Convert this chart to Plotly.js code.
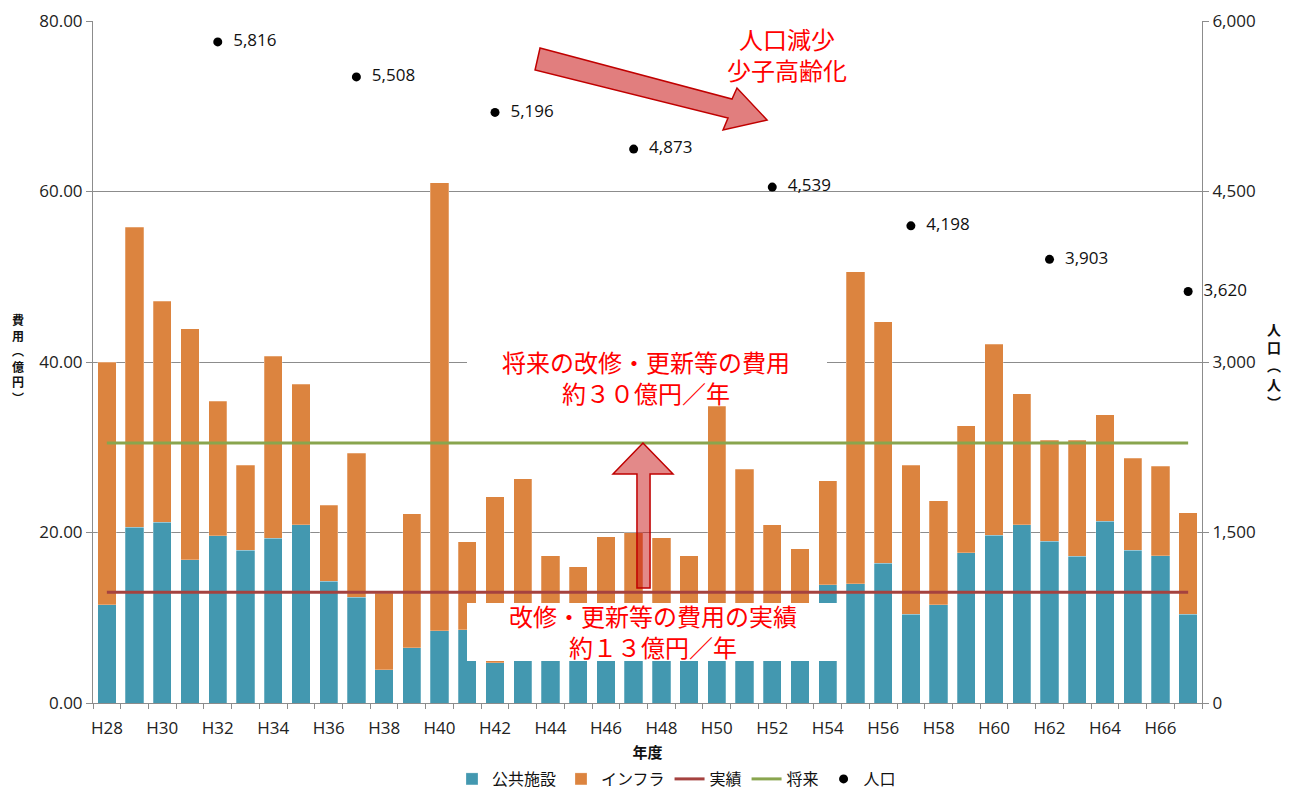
<!DOCTYPE html>
<html>
<head>
<meta charset="utf-8">
<script src="https://cdn.plot.ly/plotly-3.0.1.min.js"></script>
<style>html,body{margin:0;padding:0;background:#fff;}#chart{width:1289px;height:789px;}</style>
</head>
<body>
<div id="chart"></div>
<script>
// ---- data ----
const categories = ['H28','H29','H30','H31','H32','H33','H34','H35','H36','H37',
  'H38','H39','H40','H41','H42','H43','H44','H45','H46','H47',
  'H48','H49','H50','H51','H52','H53','H54','H55','H56','H57',
  'H58','H59','H60','H61','H62','H63','H64','H65','H66','H67'];
const publicFacilities = [11.5,20.6,21.2,16.8,19.6,17.9,19.3,20.9,14.3,12.4,
  3.9,6.5,8.5,8.6,4.7,6.5,7.0,8.0,7.5,9.0,
  8.5,7.0,9.5,8.0,7.5,6.0,13.9,14.0,16.4,10.4,
  11.5,17.6,19.7,20.9,19.0,17.2,21.3,17.9,17.3,10.4];
const infrastructure = [28.5,35.2,25.9,27.1,15.8,10.0,21.4,16.5,8.9,16.9,
  9.0,15.7,52.5,10.3,19.5,19.8,10.3,8.0,12.0,11.0,
  10.9,10.3,25.3,19.4,13.4,12.1,12.2,36.6,28.3,17.5,
  12.2,14.9,22.4,15.4,11.8,13.6,12.5,10.8,10.5,11.9];
const actualAverage = 13.0;   // 実績
const futureAverage = 30.5;   // 将来
const populationYears = ['H32','H37','H42','H47','H52','H57','H62','H67'];
const population = [5816,5508,5196,4873,4539,4198,3903,3620];
const tickLabels = categories.map((c, i) => (i % 2 === 0 ? c : ''));

// ---- layout helpers (pixel -> paper) ----
const W = 1289, H = 789;
const L = 93, R = 1202, T = 21, B = 703;
const px = x => (x - L) / (R - L);
const py = y => (B - y) / (B - T);
const poly = pts => 'M ' + pts.map(p => px(p[0]).toFixed(4) + ',' + py(p[1]).toFixed(4)).join(' L ') + ' Z';

const latin = 'Open Sans, Noto Sans CJK JP, sans-serif';
const cjk = 'Noto Sans CJK JP, sans-serif';
const teal = '#4398B0';
const orange = '#DC843F';
const red = '#A5423F';
const green = '#89A54E';
const grid = '#8C8C8C';

const traces = [
  {type:'bar', name:'公共施設', x:categories, y:publicFacilities,
   marker:{color:teal, line:{color:'rgba(255,255,255,0.5)', width:0.5}}},
  {type:'bar', name:'インフラ', x:categories, y:infrastructure,
   marker:{color:orange, line:{color:'rgba(255,255,255,0.5)', width:0.5}}},
  {type:'scatter', mode:'lines', name:'実績',
   x:[categories[0], categories[categories.length-1]], y:[actualAverage, actualAverage],
   line:{color:red, width:3}},
  {type:'scatter', mode:'lines', name:'将来',
   x:[categories[0], categories[categories.length-1]], y:[futureAverage, futureAverage],
   line:{color:green, width:3}},
  {type:'scatter', mode:'markers+text', name:'人口', x:populationYears, y:population, yaxis:'y2',
   marker:{color:'#000', size:9}, texttemplate:'  %{y:,}', textposition:'middle right',
   textfont:{family:latin, size:17, color:'#111'}, cliponaxis:false}
];

const redFont = {family:cjk, size:24, color:'#FF0000'};
const tickFont = {family:latin, size:17, color:'#222'};
const layout = {
  width:W, height:H, autosize:false,
  margin:{l:L, r:W-R, t:T, b:H-B, pad:0, autoexpand:false},
  paper_bgcolor:'#fff', plot_bgcolor:'#fff',
  barmode:'stack', bargap:0.34,
  font:{family:latin, size:16, color:'#222'},
  xaxis:{type:'category', range:[-0.5, categories.length-0.5], autorange:false,
    tickmode:'array', tickvals:categories, ticktext:tickLabels, tickangle:0,
    tickson:'boundaries', ticks:'outside', ticklen:5, tickcolor:grid, automargin:false,
    ticklabelstandoff:10,
    showline:true, linecolor:grid, linewidth:1, showgrid:false,
    tickfont:tickFont,
    title:{text:'年度', font:{family:cjk, size:15, color:'#111', weight:'bold'}, standoff:10}},
  yaxis:{range:[0,80], autorange:false, tickmode:'array', tickvals:[0,20,40,60,80], tickformat:'.2f',
    ticks:'outside', ticklen:6, tickcolor:grid, showline:true, linecolor:grid, automargin:false,
    showgrid:true, gridcolor:grid, gridwidth:1, zeroline:false,
    tickfont:tickFont},
  yaxis2:{range:[0,6000], autorange:false, overlaying:'y', side:'right', tickmode:'array',
    tickvals:[0,1500,3000,4500,6000], tickformat:',', automargin:false,
    ticks:'outside', ticklen:6, tickcolor:grid, showline:true, linecolor:grid,
    showgrid:false, zeroline:false, tickfont:tickFont},
  legend:{orientation:'h', xref:'container', yref:'container', x:452/W, xanchor:'left',
    y:1-779/H, yanchor:'middle',
    font:{family:cjk, size:16, color:'#111'}, itemwidth:30, traceorder:'normal'},
  showlegend:true,
  shapes:[
    // white box behind the 実績 caption
    {type:'rect', xref:'paper', yref:'paper', x0:px(467), x1:px(838), y0:py(661), y1:py(603),
     fillcolor:'#fff', line:{width:0}, layer:'above'},
    // white box behind the 将来 caption
    {type:'rect', xref:'paper', yref:'paper', x0:px(467), x1:px(827), y0:py(404), y1:py(346),
     fillcolor:'#fff', line:{width:0}, layer:'above'},
    // diagonal arrow (population decline)
    {type:'path', xref:'paper', yref:'paper', layer:'above',
     path:poly([[540,48],[732,99],[737,88],[767,120],[723,130],[728,118],[535,70]]),
     fillcolor:'rgba(200,20,20,0.55)', line:{color:'#C00000', width:1.5}},
    // vertical arrow (13 -> 30)
    {type:'path', xref:'paper', yref:'paper', layer:'above',
     path:poly([[643,443],[673,474],[650,474],[650,588],[637,588],[637,474],[613,474]]),
     fillcolor:'rgba(200,20,20,0.5)', line:{color:'#C00000', width:1.5}}
  ],
  annotations:[
    {xref:'paper', yref:'paper', x:px(646), y:py(377), text:'将来の改修・更新等の費用<br>約３０億円／年',
     showarrow:false, font:redFont, xanchor:'center', yanchor:'middle', align:'center'},
    {xref:'paper', yref:'paper', x:px(653), y:py(631), text:'改修・更新等の費用の実績<br>約１３億円／年',
     showarrow:false, font:redFont, xanchor:'center', yanchor:'middle', align:'center'},
    {xref:'paper', yref:'paper', x:px(787), y:py(54), text:'人口減少<br>少子高齢化',
     showarrow:false, font:redFont, xanchor:'center', yanchor:'middle', align:'center'},
    {xref:'paper', yref:'paper', x:px(18), y:py(358), text:'費<br>用<br>︵<br>億<br>円<br>︶', showarrow:false,
     font:{family:cjk, size:12, color:'#111', weight:'bold'}, xanchor:'center', yanchor:'middle'},
    {xref:'paper', yref:'paper', x:px(1274), y:py(365), text:'人<br>口<br>︵<br>人<br>︶', showarrow:false,
     font:{family:cjk, size:14, color:'#111', weight:'bold'}, xanchor:'center', yanchor:'middle'}
  ]
};

Plotly.newPlot('chart', traces, layout, {displayModeBar:false, staticPlot:true});
</script>
</body>
</html>
